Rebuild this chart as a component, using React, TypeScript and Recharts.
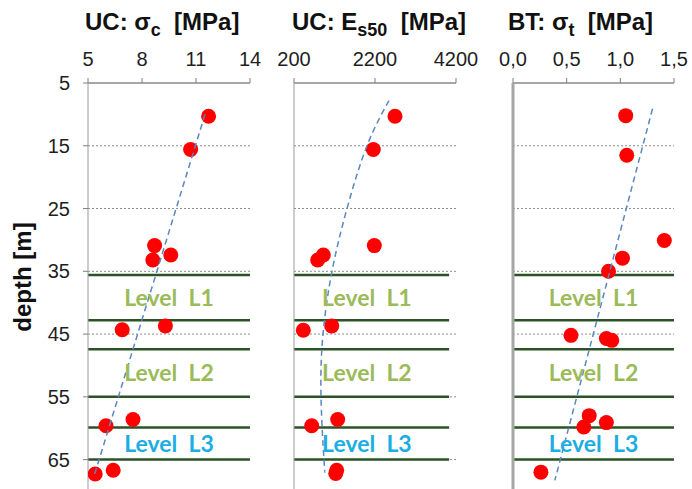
import React from 'react';
import { ComposedChart, Scatter, XAxis, YAxis, ReferenceLine, ReferenceArea } from 'recharts';

// depth axis (shared)
const depthTicks = [5, 15, 25, 35, 45, 55, 65];
const gridDepths = [15, 25, 35, 45, 55, 65];
const levelLines = [35.6, 42.8, 47.4, 55, 59.9, 65];
const levelNames = ['Level\u00A0\u00A0L1', 'Level\u00A0\u00A0L2', 'Level\u00A0\u00A0L3'];
const levelRanges = [[35.6, 42.8], [47.4, 55], [59.9, 65]];
const levelColors = ['#9BBB59', '#9BBB59', '#1CADE4'];

// UC: sigma_c [MPa]
const sigmaCTicks = [5, 8, 11, 14];
const sigmaC = [
  { x: 11.7, y: 10.3 }, { x: 10.7, y: 15.6 }, { x: 8.7, y: 30.9 }, { x: 9.6, y: 32.4 },
  { x: 8.6, y: 33.2 }, { x: 6.9, y: 44.3 }, { x: 9.3, y: 43.7 }, { x: 7.5, y: 58.6 },
  { x: 6.0, y: 59.6 }, { x: 6.4, y: 66.7 }, { x: 5.4, y: 67.3 },
];
const sigmaCTrend = [{ x: 11.5, y: 10 }, { x: 5.35, y: 67.5 }];

// UC: E_s50 [MPa]
const es50Ticks = [200, 2200, 4200];
const es50 = [
  { x: 2694, y: 10.3 }, { x: 2158, y: 15.6 }, { x: 2183, y: 30.9 }, { x: 924, y: 32.4 },
  { x: 785, y: 33.2 }, { x: 430, y: 44.4 }, { x: 1131, y: 43.7 }, { x: 1279, y: 58.6 },
  { x: 637, y: 59.6 }, { x: 1254, y: 66.7 }, { x: 1230, y: 67.2 },
];
const es50Trend = [
  { x: 2546, y: 7.8 }, { x: 2002, y: 15 }, { x: 1509, y: 25 }, { x: 1138, y: 35 },
  { x: 916, y: 45 }, { x: 867, y: 55 }, { x: 940, y: 65 }, { x: 965, y: 67 },
];

// BT: sigma_t [MPa]
const sigmaTTicks = [0, 0.5, 1, 1.5];
const sigmaT = [
  { x: 1.05, y: 10.2 }, { x: 1.06, y: 16.5 }, { x: 1.41, y: 30.1 }, { x: 1.02, y: 32.9 },
  { x: 0.89, y: 35.0 }, { x: 0.54, y: 45.2 }, { x: 0.87, y: 45.7 }, { x: 0.92, y: 46.0 },
  { x: 0.71, y: 58.0 }, { x: 0.87, y: 59.1 }, { x: 0.66, y: 59.8 }, { x: 0.26, y: 67.0 },
];
const sigmaTTrend = [{ x: 1.3, y: 9.1 }, { x: 0.39, y: 68.3 }];

const FONT = '"Liberation Sans", Arial, sans-serif';
const W = 692;
const H = 491;

const RedDot = (p: any) => <circle cx={p.cx} cy={p.cy} r={7.5} fill="#FF0000" />;
const NoDot = () => <g />;

type PanelProps = {
  left: number;
  right: number;
  yWidth: number;
  domain: [number, number];
  ticks: number[];
  fmt?: (v: number) => string;
  points: { x: number; y: number }[];
  trend: { x: number; y: number }[];
  curve: 'linear' | 'natural';
  lineEnd: number;
  labelTo: number;
  showY: boolean;
  yLine: { stroke: string; strokeWidth: number };
  yTick: number;
};

const Panel = (pp: PanelProps) => (
  <div style={{ position: 'absolute', left: 0, top: 0 }}>
    <ComposedChart width={W} height={H} margin={{ top: 53, right: pp.right, bottom: 0, left: pp.left }}>
      <XAxis
        orientation="top"
        type="number"
        dataKey="x"
        domain={pp.domain}
        ticks={pp.ticks}
        interval={0}
        allowDataOverflow
        height={30}
        tickFormatter={pp.fmt}
        axisLine={{ stroke: '#A6A6A6', strokeWidth: 2 }}
        tickLine={{ stroke: '#7F7F7F' }}
        tickSize={5}
        tickMargin={12}
        tick={{ fontSize: 20, fill: '#1E1E1E', fontFamily: FONT }}
      />
      <YAxis
        type="number"
        dataKey="y"
        domain={[5, 70]}
        ticks={depthTicks}
        interval={0}
        reversed
        allowDataOverflow
        width={pp.yWidth}
        axisLine={pp.yLine}
        tickLine={{ stroke: '#7F7F7F' }}
        tickSize={pp.yTick}
        tickMargin={13}
        tick={pp.showY ? { fontSize: 20, fill: '#1E1E1E', fontFamily: FONT } : false}
      />
      {gridDepths.map((v) => (
        <ReferenceLine key={'g' + v} y={v} stroke="#8C8C8C" strokeDasharray="2 2" />
      ))}
      {levelLines.map((v) => (
        <ReferenceLine
          key={v}
          segment={[{ x: pp.domain[0], y: v }, { x: pp.lineEnd, y: v }]}
          stroke="#2B5325"
          strokeWidth={2.5}
        />
      ))}
      {levelRanges.map((r, i) => (
        <ReferenceArea
          key={i}
          x1={pp.domain[0]}
          x2={pp.labelTo}
          y1={r[0]}
          y2={r[1]}
          fillOpacity={0}
          strokeOpacity={0}
          label={{
            value: levelNames[i],
            position: 'center',
            fill: levelColors[i],
            fontSize: 23,
            fontWeight: 'bold',
            fontFamily: 'Lato, "Open Sans", sans-serif',
          }}
        />
      ))}
      <Scatter data={pp.points} shape={RedDot} isAnimationActive={false} />
      <Scatter
        data={pp.trend}
        shape={NoDot}
        line={{ stroke: '#5A87BE', strokeWidth: 1.5, strokeDasharray: '6 4' }}
        lineJointType={pp.curve}
        isAnimationActive={false}
      />
    </ComposedChart>
  </div>
);

export default function App() {
  const titleStyle = { fontSize: 24, fontWeight: 'bold' as const, fontFamily: FONT, fill: '#111' };
  return (
    <div style={{ position: 'absolute', left: 0, top: 0, width: W, height: 489, overflow: 'hidden', background: '#fff' }}>
      <Panel
        left={0} right={442} yWidth={88} domain={[5, 14]} ticks={sigmaCTicks}
        points={sigmaC} trend={sigmaCTrend} curve="linear" lineEnd={14} labelTo={14}
        showY yLine={{ stroke: '#9A9A9A', strokeWidth: 1 }} yTick={5}
      />
      <Panel
        left={260} right={236} yWidth={34} domain={[200, 4200]} ticks={es50Ticks}
        points={es50} trend={es50Trend} curve="natural" lineEnd={4030} labelTo={3800}
        showY={false} yLine={{ stroke: '#9A9A9A', strokeWidth: 1 }} yTick={6}
      />
      <Panel
        left={470} right={18} yWidth={43} domain={[0, 1.5]} ticks={sigmaTTicks}
        fmt={(v: number) => v.toFixed(1).replace('.', ',')}
        points={sigmaT} trend={sigmaTTrend} curve="linear" lineEnd={1.5} labelTo={1.5}
        showY={false} yLine={{ stroke: '#A6A6A6', strokeWidth: 3 }} yTick={7}
      />
      <svg width={W} height={489} style={{ position: 'absolute', left: 0, top: 0, pointerEvents: 'none' }}>
        <text x={85} y={30} {...titleStyle}>
          UC: σ<tspan fontSize={18} dy={6}>c</tspan><tspan dy={-6}>{'\u00A0\u00A0[MPa]'}</tspan>
        </text>
        <text x={292} y={30} {...titleStyle}>
          UC: E<tspan fontSize={18} dy={6}>s50</tspan><tspan dy={-6}>{'\u00A0\u00A0[MPa]'}</tspan>
        </text>
        <text x={508} y={30} {...titleStyle}>
          BT: σ<tspan fontSize={18} dy={6}>t</tspan><tspan dy={-6}>{'\u00A0\u00A0[MPa]'}</tspan>
        </text>
        <text x={31} y={277} textAnchor="middle" transform="rotate(-90 31 277)" {...titleStyle}>
          depth [m]
        </text>
      </svg>
    </div>
  );
}
